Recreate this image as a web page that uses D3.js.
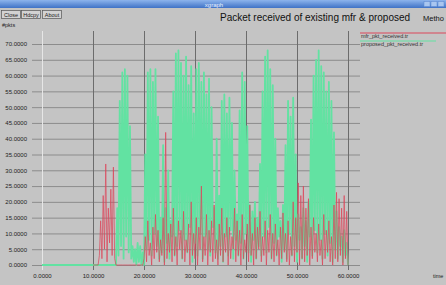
<!DOCTYPE html>
<html>
<head>
<meta charset="utf-8">
<script src="https://cdn.jsdelivr.net/npm/d3@7"></script>
<style>
html, body { margin: 0; padding: 0; background: #c4c4c4; overflow: hidden; }
svg { display: block; font-family: "Liberation Sans", Arial, sans-serif; }
</style>
</head>
<body>
<svg id="chart" width="446" height="285"></svg>
<script>
(function() {
'use strict';

// x = time (s), one sample every tStep from tStart; y = packets (as on the axis)
var tStart = 10;
var tStep = 0.25;
var xTicks = [0, 10, 20, 30, 40, 50, 60];
var yTicks = [0, 5, 10, 15, 20, 25, 30, 35, 40, 45, 50, 55, 60, 65, 70];
var setNames = ['mfr_pkt_received.tr', 'proposed_pkt_received.tr'];
var setColors = ['#dc465a', '#62e2a2'];
var buttons = ['Close', 'Hdcpy', 'About'];

// proposed set starts at t=0 flat
var proposedHead = [[0, 0]];

var mfrVals = [
    0,0,0,0,0,3,14,2,22,5,32,1,18,7,24,3,31,2,0,
    0,0,0,0,0,0,0,0,0,0,0,0,0,0,0,0,0,0,0,0,0,
    2,9,1,14,3,7,0,12,2,16,
    4,11,1,8,3,15,0,42,2,10,
    4,13,1,18,3,9,0,14,5,11,
    2,17,1,8,4,13,0,20,3,10,
    2,15,0,12,5,25,1,9,3,16,
    0,11,4,14,1,19,2,8,0,13,
    3,18,1,10,4,15,0,12,2,9,
    5,18,1,14,3,11,0,16,2,8,
    4,13,1,19,3,10,0,15,2,12,
    5,17,1,9,3,14,0,11,4,16,
    2,10,1,13,3,8,0,12,2,16.5,
    4,10,1,14,0,9,3,20,1,15,
    4,26,0,22,2,25,1,18,3,21,
    0,12,2,15,4,10,1,13,3,8,
    0,16,2,11,4,14,1,9,0,19,
    2,23,1,21,3,18,0,22,2,17,0
];

var proposedVals = [
    0,0,0,0,0,0,0,0,0,0,0,0,0,0,0,0,0,0,0,
    18,3,52,6,61,2,62,9,60,4,44,2,
    6,1,5,0,7,1,6,0,4,0,
    35,5,61,8,62,3,58,10,62,6,
    47,2,15,4,38,1,18,7,30,2,
    14,9,55,3,67,6,68,11,64,2,
    60,8,66,4,57,12,63,1,48,7,
    62,3,64,10,58,2,61,9,54,5,
    59,3,50,12,18,4,40,2,22,6,
    52,1,54,9,48,3,53,11,45,2,
    30,8,16,3,49,7,61,2,58,10,
    44,4,19,1,17,8,20,2,15,6,
    32,3,55,9,66,4,68,12,62,2,
    57,7,40,3,18,9,14,1,19,5,
    38,2,52,10,47,3,53,6,35,1,
    16,8,12,2,18,6,14,1,20,9,
    46,3,60,11,65,4,68,8,63,2,
    61,10,55,3,58,7,52,1,42,5,
    17,2,12,6,9,1,11,3,7,0
];

var toPoints = function(vals) {
    return vals.map(function(v, i) {
        return [tStart + i * tStep, v];
    });
};

var svg = d3.select('#chart');
var W = 446;

var x = d3.scaleLinear().domain([0, 60]).range([42, 348]);
var y = d3.scaleLinear().domain([0, 70]).range([265, 44]);
var gridTop = 31, gridRight = 360, gridLeft = 32, axisY = 270;

// window title bar
var grad = svg.append('defs').append('linearGradient')
    .attr('id', 'bar').attr('x1', 0).attr('y1', 0).attr('x2', 0).attr('y2', 1);
grad.append('stop').attr('offset', '0%').attr('stop-color', '#8db4ec');
grad.append('stop').attr('offset', '100%').attr('stop-color', '#3f72c6');
svg.append('rect').attr('x', 0).attr('y', 0).attr('width', W).attr('height', 8)
    .attr('fill', 'url(#bar)');
svg.append('text').attr('x', 214).attr('y', 6.5).attr('text-anchor', 'middle')
    .attr('font-size', 6).attr('fill', '#e8f0ff').text('xgraph');
[0, 1, 2].forEach(function(k) {
    svg.append('rect').attr('x', 424 + k * 7).attr('y', 1.5).attr('width', 6).attr('height', 5)
        .attr('fill', '#a9c6f0').attr('stroke', '#5a86cf').attr('stroke-width', 0.5);
});

// buttons
var bx = [1, 21, 42];
buttons.forEach(function(b, i) {
    svg.append('rect').attr('x', bx[i] + 0.5).attr('y', 10.5).attr('width', 19).attr('height', 8)
        .attr('fill', '#d2d2d2').attr('stroke', '#555').attr('stroke-width', 0.7);
    svg.append('text').attr('x', bx[i] + 10).attr('y', 17).attr('text-anchor', 'middle')
        .attr('font-size', 5.5).attr('fill', '#222').text(b);
});

// title (last word is cut off by the window edge)
svg.append('text').attr('x', 220).attr('y', 20.5)
    .attr('font-size', 10).attr('fill', '#111')
    .text('Packet received of existing mfr & proposed');
svg.append('text').attr('x', 423).attr('y', 20.5)
    .attr('font-size', 7.5).attr('fill', '#111').text('Metho');

svg.append('text').attr('x', 2).attr('y', 27)
    .attr('font-size', 5.5).attr('fill', '#222').text('#pkts');
svg.append('text').attr('x', 433).attr('y', 278)
    .attr('font-size', 5.5).attr('fill', '#222').text('time');

// y axis + horizontal grid
var yAxis = d3.axisLeft(y)
    .tickValues(yTicks)
    .tickFormat(d3.format('.4f'))
    .tickSize(-(gridRight - gridLeft))
    .tickPadding(5);
var yg = svg.append('g').attr('transform', 'translate(' + gridLeft + ',0)').call(yAxis);
yg.select('.domain').remove();
yg.selectAll('line').attr('stroke', '#8c8c8c').attr('stroke-width', 1);
yg.selectAll('text').attr('font-size', 6).attr('fill', '#222')
    .attr('font-family', '"Liberation Sans", Arial, sans-serif');

// x axis + vertical grid
var xAxis = d3.axisBottom(x)
    .tickValues(xTicks)
    .tickFormat(d3.format('.4f'))
    .tickSize(-(axisY - gridTop))
    .tickPadding(4);
var xg = svg.append('g').attr('transform', 'translate(0,' + axisY + ')').call(xAxis);
xg.select('.domain').remove();
xg.selectAll('line').attr('stroke', function(d) {
    return d === 0 ? '#e6e6e6' : '#6c6c6c';
}).attr('stroke-width', 1);
xg.selectAll('text').attr('font-size', 6).attr('fill', '#222')
    .attr('font-family', '"Liberation Sans", Arial, sans-serif');

// data lines
var line = d3.line()
    .x(function(d) { return x(d[0]); })
    .y(function(d) { return y(d[1]); });

svg.append('path')
    .datum(proposedHead.concat(toPoints(proposedVals)))
    .attr('d', line)
    .attr('fill', 'none')
    .attr('stroke', setColors[1])
    .attr('stroke-width', 1.8)
    .attr('stroke-linejoin', 'round');

svg.append('path')
    .datum(toPoints(mfrVals))
    .attr('d', line)
    .attr('fill', 'none')
    .attr('stroke', setColors[0])
    .attr('stroke-width', 0.8)
    .attr('stroke-opacity', 0.9);

// legend
var legY = [33, 41];
setNames.forEach(function(name, i) {
    svg.append('line').attr('x1', 360).attr('x2', i === 0 ? W : 436)
        .attr('y1', legY[i]).attr('y2', legY[i])
        .attr('stroke', setColors[i]).attr('stroke-width', 1);
    svg.append('text').attr('x', 361).attr('y', legY[i] + 4.5)
        .attr('font-size', 5.5).attr('fill', '#333').text(name);
});

})();
</script>
</body>
</html>
